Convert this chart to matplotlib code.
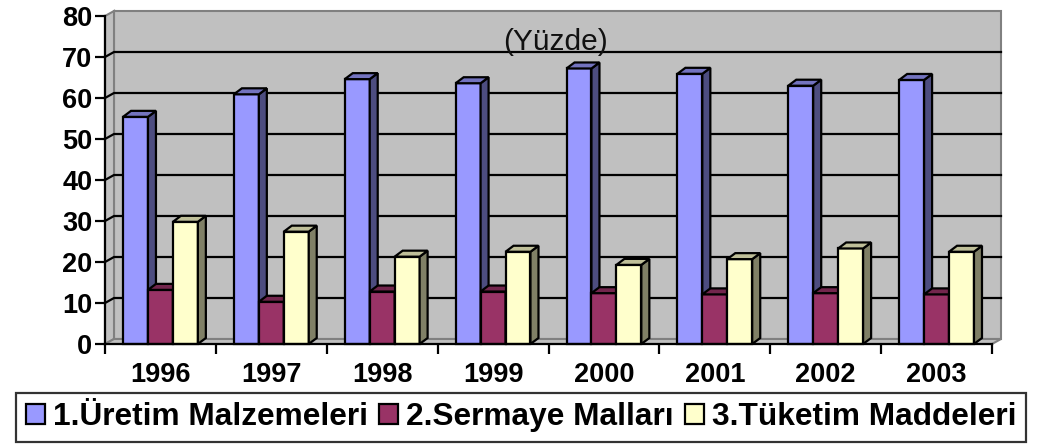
import numpy as np
import matplotlib.pyplot as plt
from matplotlib.patches import Polygon, Patch

plt.rcParams['font.family'] = ['Liberation Sans', 'DejaVu Sans']

years = ["1996", "1997", "1998", "1999", "2000", "2001", "2002", "2003"]
uretim = [55.4, 60.9, 64.6, 63.6, 67.2, 65.9, 63.0, 64.4]
sermaye = [13.2, 10.3, 12.8, 12.8, 12.4, 12.1, 12.4, 12.1]
tuketim = [29.8, 27.4, 21.3, 22.5, 19.3, 20.7, 23.3, 22.5]

series_names = ["1.Üretim Malzemeleri", "2.Sermaye Malları", "3.Tüketim Maddeleri"]
front_colors = ["#9999FF", "#993366", "#FFFFCC"]
side_colors = ["#4D4D80", "#4D1A33", "#808066"]
top_colors = ["#7373BF", "#73264D", "#BFBF99"]

W, H = 1039, 445
fig = plt.figure(figsize=(W / 100, H / 100), dpi=100)
ax = fig.add_axes([105 / W, (H - 344) / H, (992 - 105) / W, (344 - 16) / H])
n = len(years)
ax.set_xlim(0, n)
ax.set_ylim(0, 80)
ax.patch.set_visible(False)

# pixel -> data unit conversions
px_x = n / (992 - 105)
px_y = 80 / (344 - 16)
wdx, wdy = 9 * px_x, 5 * px_y   # wall depth
bdx, bdy = 8 * px_x, 6 * px_y   # bar depth

wall_kw = dict(facecolor="#C0C0C0", edgecolor="#808080", lw=1.5, clip_on=False, zorder=0)
ax.add_patch(Polygon([(wdx, wdy), (n + wdx, wdy), (n + wdx, 80 + wdy), (wdx, 80 + wdy)], **wall_kw))
ax.add_patch(Polygon([(0, 0), (wdx, wdy), (wdx, 80 + wdy), (0, 80)], **wall_kw))
ax.add_patch(Polygon([(0, 0), (n, 0), (n + wdx, wdy), (wdx, wdy)], **wall_kw))

for v in range(10, 80, 10):
    ax.plot([0, wdx, n + wdx], [v, v + wdy, v + wdy], color="black", lw=1.6,
            clip_on=False, zorder=1)

w = 0.225
x0 = np.arange(n) + 0.5 - 1.5 * w
for s, vals in enumerate([uretim, sermaye, tuketim]):
    xs = x0 + s * w
    z = 3 + s
    ax.bar(xs, vals, width=w, align="edge", color=front_colors[s],
           edgecolor="black", lw=1.6, zorder=z, clip_on=False)
    for x, h in zip(xs, vals):
        ax.add_patch(Polygon([(x + w, 0), (x + w + bdx, bdy), (x + w + bdx, h + bdy), (x + w, h)],
                             facecolor=side_colors[s], edgecolor="black", lw=1.6,
                             zorder=z, clip_on=False))
        ax.add_patch(Polygon([(x, h), (x + bdx, h + bdy), (x + w + bdx, h + bdy), (x + w, h)],
                             facecolor=top_colors[s], edgecolor="black", lw=1.6,
                             zorder=z, clip_on=False))

for sp in ["top", "right"]:
    ax.spines[sp].set_visible(False)
for sp in ["left", "bottom"]:
    ax.spines[sp].set_linewidth(1.6)
    ax.spines[sp].set_zorder(10)

ax.set_yticks(range(0, 81, 10))
ax.tick_params(axis="y", length=7, width=1.6, pad=2, labelsize=19.5)
for t in ax.get_yticklabels():
    t.set_fontweight("bold")

ax.set_xticks(range(n + 1))
ax.set_xticklabels([])
ax.tick_params(axis="x", which="major", length=7, width=1.6)
ax.set_xticks(np.arange(n) + 0.5, minor=True)
ax.set_xticklabels(years, minor=True)
ax.tick_params(axis="x", which="minor", length=0, pad=13, labelsize=19.5)
for t in ax.get_xticklabels(minor=True):
    t.set_fontweight("bold")

ax.text(4.06, 73.7, "(Yüzde)", ha="center", va="center", fontsize=21.5,
        color="#111111", zorder=2)

handles = [Patch(facecolor=c, edgecolor="black", lw=1.6) for c in front_colors]
leg = fig.legend(handles, series_names, loc="center", bbox_to_anchor=(521 / W, (H - 417) / H),
                 ncol=3, prop={"weight": "bold", "size": 22.8},
                 handlelength=0.6, handleheight=0.6, handletextpad=0.25,
                 columnspacing=0.35, borderpad=0.3, borderaxespad=0,
                 fancybox=False, frameon=True)
leg.get_frame().set_edgecolor("black")
leg.get_frame().set_linewidth(1.6)

fig.savefig("out.png", dpi=100)
